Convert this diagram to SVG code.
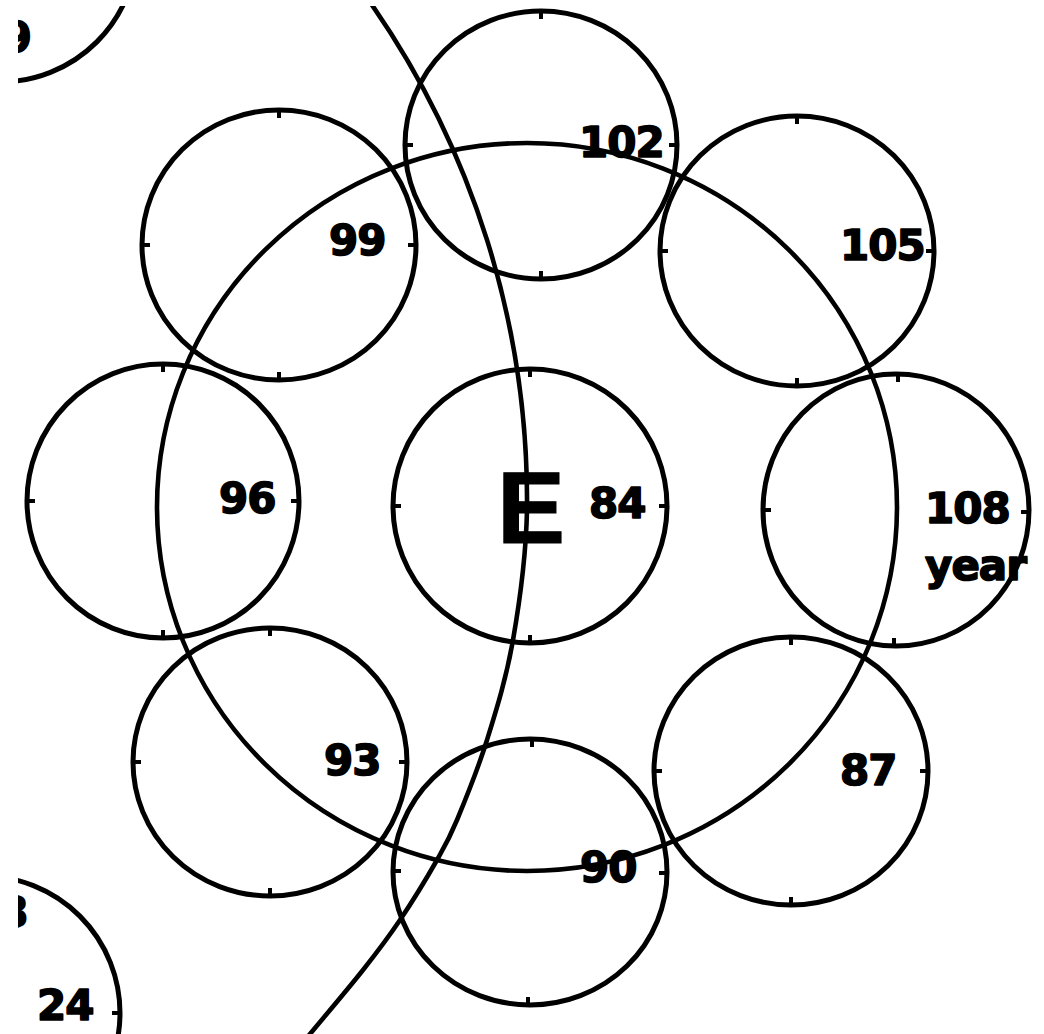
<svg xmlns="http://www.w3.org/2000/svg" width="1044" height="1034" viewBox="0 0 1044 1034">
  <style>
    .ring { fill: none; stroke: #000; stroke-width: 5; }
    .tick { fill: none; stroke: #000; stroke-width: 4; }
    .line { fill: none; stroke: #000; stroke-width: 4.6; }
    .lbl { font-family: "DejaVu Sans", "Liberation Sans", sans-serif; font-weight: bold; font-size: 42px; fill: #000; stroke: #000; stroke-width: 1.6; stroke-linejoin: round; letter-spacing: -1px; }
    .big { font-family: "Liberation Sans", "DejaVu Sans", sans-serif; font-weight: bold; font-size: 102px; fill: #000; stroke: #000; stroke-width: 1; }
  </style>
  <defs>
    <clipPath id="page">
      <rect x="18" y="6" width="1015" height="1028"/>
    </clipPath>
  </defs>
  <rect x="0" y="0" width="1044" height="1034" fill="#fff"/>
  <g clip-path="url(#page)">
    <g id="connectors">
      <ellipse id="orbit" class="line" cx="527" cy="507" rx="370" ry="364"/>
      <path id="meridian" class="line" d="M 365 -5 A 871 871 0 0 1 527 510 C 526.1 553.3 519.7 601.7 513 640 C 506.3 678.3 496.3 710 487 740 C 477.7 770 465.3 800 457 820 C 448.7 840 446.5 843.3 437 860 C 427.5 876.7 412.3 901.7 400 920 C 387.7 938.3 378 951 363 970 C 348 989 322.2 1019.3 310 1034 L 290 1058"/>
    </g>
    <g id="node-corner-tl">
      <circle class="ring" cx="0" cy="-55" r="137"/>
      <text class="lbl" x="31" y="52" text-anchor="end">9</text>
    </g>
    <g id="node-corner-bl">
      <circle class="ring" cx="-17" cy="1013" r="137"/>
      <path class="tick" d="M120 1013 h-8"/>
      <text class="lbl" x="28" y="927" text-anchor="end">3</text>
      <text class="lbl" x="37" y="1020">24</text>
    </g>
    <g id="node-84">
      <ellipse class="ring" cx="530" cy="506" rx="137" ry="137"/>
      <path class="tick" d="M530 369 v8 M530 643 v-8 M393 506 h8 M667 506 h-8"/>
      <text class="big" x="497" y="543">E</text>
      <text class="lbl" x="589" y="518">84</text>
    </g>
    <g id="node-102">
      <ellipse class="ring" cx="541" cy="145" rx="136" ry="134"/>
      <path class="tick" d="M541 11 v8 M541 279 v-8 M405 145 h8 M677 145 h-8"/>
      <text class="lbl" x="579" y="157">102</text>
    </g>
    <g id="node-99">
      <ellipse class="ring" cx="279" cy="245" rx="137" ry="135"/>
      <path class="tick" d="M279 110 v8 M279 380 v-8 M142 245 h8 M416 245 h-8"/>
      <text class="lbl" x="329" y="255">99</text>
    </g>
    <g id="node-105">
      <ellipse class="ring" cx="797" cy="251" rx="137" ry="135"/>
      <path class="tick" d="M797 116 v8 M797 386 v-8 M660 251 h8 M934 251 h-8"/>
      <text class="lbl" x="840" y="260">105</text>
    </g>
    <g id="node-96">
      <ellipse class="ring" cx="163" cy="501" rx="136" ry="137"/>
      <path class="tick" d="M163 364 v8 M163 638 v-8 M27 501 h8 M299 501 h-8"/>
      <text class="lbl" x="219" y="513">96</text>
    </g>
    <g id="node-108">
      <ellipse class="ring" cx="896" cy="510" rx="133" ry="136"/>
      <path class="tick" d="M898 374 v8 M894 646 v-8 M763 510 h8 M1029 512 h-8"/>
      <text class="lbl" x="925" y="523">108</text>
      <text class="lbl" x="925" y="580">year</text>
    </g>
    <g id="node-93">
      <ellipse class="ring" cx="270" cy="762" rx="137" ry="134"/>
      <path class="tick" d="M270 628 v8 M270 896 v-8 M133 762 h8 M407 762 h-8"/>
      <text class="lbl" x="324" y="775">93</text>
    </g>
    <g id="node-87">
      <ellipse class="ring" cx="791" cy="771" rx="137" ry="134"/>
      <path class="tick" d="M791 637 v8 M791 905 v-8 M654 771 h8 M928 771 h-8"/>
      <text class="lbl" x="840" y="785">87</text>
    </g>
    <g id="node-90">
      <ellipse class="ring" cx="530" cy="872" rx="137" ry="133"/>
      <path class="tick" d="M532 739 v8 M528 1005 v-8 M393 871 h8 M667 873 h-8"/>
      <text class="lbl" x="580" y="882">90</text>
    </g>
  </g>
</svg>
